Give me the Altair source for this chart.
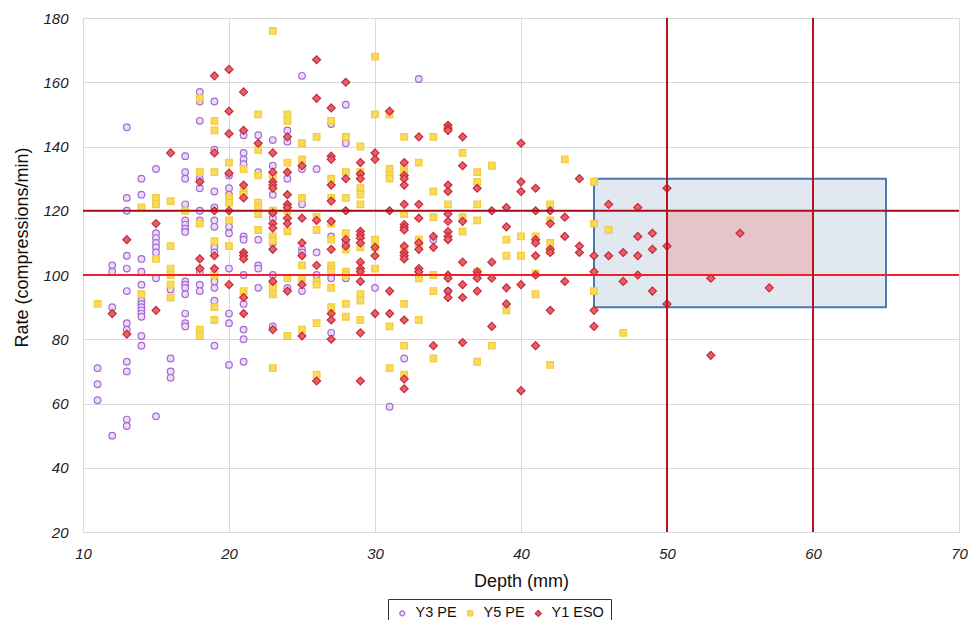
import altair as alt
import pandas as pd

series_names = ["Y3 PE", "Y5 PE", "Y1 ESO"]

# Y3 PE (purple circles): depth -> list of rates
y3_pe = {
    11: [71, 66, 61],
    12: [103, 101, 90, 50],
    13: [146, 124, 120, 106, 102, 95, 85, 83, 73, 70, 55, 53],
    14: [130, 125, 105, 101, 97, 92, 91, 90, 89, 88, 87, 81, 78],
    15: [133, 113, 111.5, 110, 108.6, 107, 99, 56],
    16: [95.5, 74, 70, 68],
    17: [137, 132, 130, 122, 117, 115.7, 114.4, 113.4, 98, 97, 96, 94, 88, 85, 84],
    18: [157, 154, 148, 130, 127, 120, 117, 101, 97, 95],
    19: [154, 139, 126, 121, 117, 115, 108.6, 107, 98, 96, 92, 78],
    20: [131, 127, 125, 115, 113, 102, 88, 85, 72],
    21: [143.5, 138, 136, 134.5, 112, 111, 100, 91, 83, 80, 73],
    22: [143.5, 132, 111, 103, 102, 96],
    23: [142, 134, 125, 117.7, 110, 100, 84],
    24: [145, 141.5, 130, 96],
    25: [162, 133, 122, 108, 107, 95],
    26: [133, 107, 100],
    27: [147, 112, 99, 82],
    28: [153, 141, 110, 99],
    30: [96],
    31: [59],
    32: [74],
    33: [161],
    34: [111],
    35: [95],
}

# Y5 PE (yellow squares)
y5_pe = {
    11: [91],
    14: [121, 94],
    15: [124, 122, 105],
    16: [123, 109, 102, 100, 97, 93],
    17: [120],
    18: [155, 132, 116, 83, 81],
    19: [148, 145, 132, 110.5, 100, 90, 86],
    20: [135, 124, 122.5, 117, 109],
    21: [133, 126, 125, 95],
    22: [150, 139, 131, 122.5, 121, 119, 114],
    23: [176, 131, 120, 112, 110.7, 97, 96, 94, 71],
    24: [150, 148, 135, 120, 113.6, 99, 81],
    25: [141, 136, 124, 103, 99, 83],
    26: [143, 118, 114, 98, 97, 85, 69],
    27: [148, 130, 124, 116, 111, 103, 102, 101, 96, 90],
    28: [143, 132, 124, 113, 108, 101, 100, 91, 87],
    29: [140, 132, 127, 125, 122, 108.6, 94, 92, 86],
    30: [168, 150, 111, 108.6, 102],
    31: [150, 133, 131, 130, 84, 71],
    32: [143, 133.5, 132, 119, 108, 91, 78, 69],
    33: [135, 111, 109, 100, 99, 86],
    34: [143, 126, 118, 100, 95, 74],
    35: [122],
    36: [138, 118, 113.5],
    37: [132, 129, 122, 117, 101, 73],
    38: [134, 78],
    39: [111, 106, 89],
    40: [112, 106],
    41: [112, 100.5, 94],
    42: [122, 117, 110, 107.5, 72],
    43: [136],
    45: [129, 116, 95],
    46: [114],
    47: [82],
}

# Y1 ESO (red diamonds)
y1_eso = {
    12: [88],
    13: [111, 81.6],
    15: [116, 89],
    16: [138],
    18: [129, 105, 102],
    19: [162, 138, 120, 106, 102],
    20: [164, 151, 144, 131.7, 120, 97],
    21: [157, 145, 128, 124, 107, 106, 105, 93, 88],
    22: [141],
    23: [138, 132, 129, 128, 127, 119.3, 116, 114.6, 108, 98, 83],
    24: [143, 132, 125, 122, 121, 117.7, 116, 95],
    25: [134, 117.7, 110, 106, 97, 81],
    26: [167, 155, 117, 103, 67],
    27: [152, 137, 136, 128, 123, 116.7, 108, 88, 86, 80],
    28: [160, 130, 120, 111, 109],
    29: [135, 131.5, 130, 113.6, 112.5, 111.5, 110, 104, 102, 101, 98, 82, 67],
    30: [138, 136, 108.6, 106, 88],
    31: [151, 120, 95, 88],
    32: [135, 131, 130, 128, 122, 115.7, 114.8, 114, 109, 107, 106, 105, 86, 67.6, 64.6],
    33: [143, 122, 117.7, 110, 108, 102, 101],
    34: [112, 108.6, 78],
    35: [146.6, 145.7, 145, 128, 126, 119, 116.7, 113.5, 112, 111, 100, 99, 95, 93],
    36: [143, 134, 116.7, 104, 97, 93, 79],
    37: [127, 101, 100, 99, 95],
    38: [120, 104, 99, 84],
    39: [121, 115, 96, 91],
    40: [141, 129, 126, 97, 64],
    41: [127, 120, 111, 110, 106, 100, 78],
    42: [120, 116, 108, 107, 89],
    43: [118, 112, 98],
    44: [130, 109, 107],
    45: [106, 101, 89, 84],
    46: [122, 106],
    47: [107, 98],
    48: [121, 112, 106, 100],
    49: [113, 108, 95],
    50: [127, 109, 91],
    53: [99, 75],
    55: [113],
    57: [96],
}

# target zones
blue_zone_x = [45, 65]
blue_zone_y = [90, 130]
pink_zone_x = [50, 60]
pink_zone_y = [100, 120]
h_line_120 = [120]
h_line_100 = [100]
v_lines = [50, 60]

rows = []
for name, d in zip(series_names, [y3_pe, y5_pe, y1_eso]):
    for depth, rates in d.items():
        for r in rates:
            rows.append({"depth": depth, "rate": r, "series": name})
points = pd.DataFrame(rows)

font = "Liberation Sans"
xscale = alt.Scale(domain=[10, 70], nice=False, zero=False)
yscale = alt.Scale(domain=[20, 180], nice=False, zero=False)

xaxis = alt.Axis(values=[10, 20, 30, 40, 50, 60, 70], title="Depth (mm)", labelFontStyle="italic",
                 labelFontSize=15, labelFont=font, labelColor="#222", labelPadding=14,
                 titleFont=font, titleFontSize=18, titleFontWeight="normal", titleColor="#111",
                 titlePadding=11, ticks=False, grid=True, gridColor="#d9d9d9",
                 domainColor="#d9d9d9", labelFlush=False)
yaxis = alt.Axis(values=[20, 40, 60, 80, 100, 120, 140, 160, 180], title="Rate (compressions/min)",
                 labelFontStyle="italic", labelFontSize=15, labelFont=font, labelColor="#222",
                 labelPadding=15, titleFont=font, titleFontSize=18, titleFontWeight="normal",
                 titleColor="#111", titleX=-61, titleY=229, titleBaseline="middle",
                 ticks=False, grid=True, gridColor="#d9d9d9", domainColor="#d9d9d9", labelFlush=False)

blue_df = pd.DataFrame({"x": [blue_zone_x[0]], "x2": [blue_zone_x[1]], "y": [blue_zone_y[0]], "y2": [blue_zone_y[1]]})
pink_df = pd.DataFrame({"x": [pink_zone_x[0]], "x2": [pink_zone_x[1]], "y": [pink_zone_y[0]], "y2": [pink_zone_y[1]]})

blue_rect = alt.Chart(blue_df).mark_rect(fill="#e2e8ef", stroke="#4a79b0", strokeWidth=2).encode(
    x=alt.X("x:Q", scale=xscale, axis=xaxis), x2="x2:Q",
    y=alt.Y("y:Q", scale=yscale, axis=yaxis), y2="y2:Q")
pink_rect = alt.Chart(pink_df).mark_rect(fill="#e7c4ca", strokeWidth=0).encode(
    x=alt.X("x:Q", scale=xscale), x2="x2:Q", y=alt.Y("y:Q", scale=yscale), y2="y2:Q")

diamond = "M-1.2,0L0,-1.2L1.2,0L0,1.2Z"

legend = alt.Legend(title=None, orient="none", legendX=305, legendY=581, direction="horizontal",
                    strokeColor="#333", padding=7, labelFont=font, labelFontSize=14.5,
                    labelColor="#111", symbolSize=24, symbolStrokeWidth=1.2, columnPadding=6,
                    labelOffset=6)

pts = alt.Chart(points).mark_point(filled=False, opacity=1, fillOpacity=1, strokeWidth=1.2, size=44).encode(
    x=alt.X("depth:Q", scale=xscale),
    y=alt.Y("rate:Q", scale=yscale),
    shape=alt.Shape("series:N", scale=alt.Scale(domain=series_names, range=["circle", "square", diamond]), legend=legend),
    stroke=alt.Stroke("series:N", scale=alt.Scale(domain=series_names, range=["#a46ad2", "#f3cc3a", "#c72a35"]), legend=legend),
    fill=alt.Fill("series:N", scale=alt.Scale(domain=series_names, range=["#eadcf6", "#f9da5e", "#e6606c"]), legend=legend),
)

h120 = alt.Chart(pd.DataFrame({"y": h_line_120})).mark_rule(color="#a5101b", strokeWidth=1.8).encode(
    y=alt.Y("y:Q", scale=yscale))
h100 = alt.Chart(pd.DataFrame({"y": h_line_100})).mark_rule(color="#f22028", strokeWidth=2).encode(
    y=alt.Y("y:Q", scale=yscale))
vl = alt.Chart(pd.DataFrame({"x": v_lines})).mark_rule(color="#b8121d", strokeWidth=2).encode(
    x=alt.X("x:Q", scale=xscale))

chart = alt.layer(blue_rect, pink_rect, pts, h120, h100, vl).properties(
    width=876, height=514,
    autosize=alt.AutoSizeParams(type="none"),
    padding={"left": 75, "top": 10, "right": 9, "bottom": 88},
).configure_view(stroke="#d9d9d9").configure(background="white")

chart.save("out.html", embed_options={"renderer": "svg", "actions": False})
